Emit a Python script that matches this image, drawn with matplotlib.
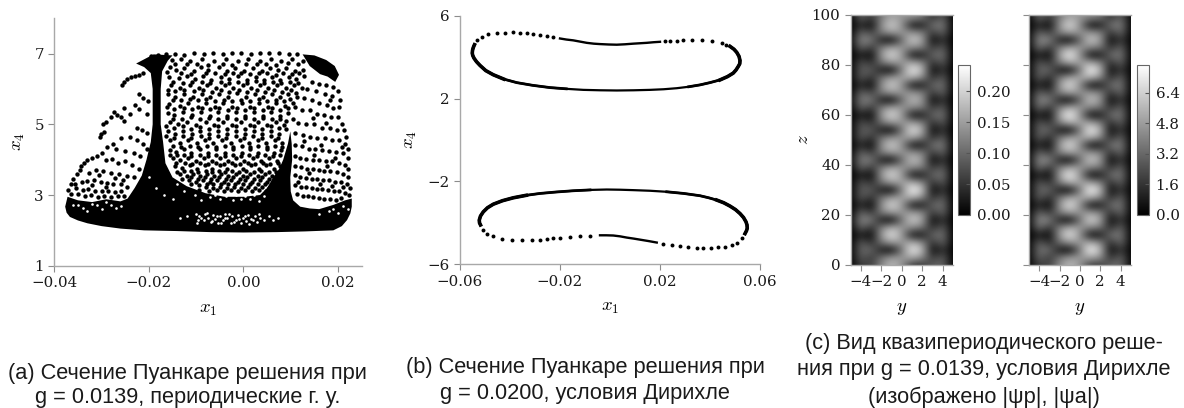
import matplotlib
matplotlib.use('Agg')
import matplotlib.pyplot as plt
import numpy as np

plt.rcParams['font.family'] = ['DejaVu Serif']
plt.rcParams['mathtext.fontset'] = 'cm'

W, H = 1184, 408

# --- panel (a): x1 in units of 1e-3, x4 as is
# outline of the part where the points merge into solid black
dense_a = [(-37.7, 2.67), (-37.4, 2.5), (-36.7, 2.38), (-35, 2.28), (-33, 2.2), (-30, 2.12), (-26, 2.05), (-21, 2.0), (-14, 1.98),
           (-7, 1.95), (0, 1.94), (7, 1.95), (13, 1.97), (19, 2.0), (20.8, 2.12), (21.9, 2.29), (22.6, 2.48), (22.9, 2.67), (22.9, 2.9),
           (21.5, 2.85), (19, 2.72), (16, 2.6), (14, 2.62), (12, 2.67), (10.5, 2.85), (10, 3.1), (9.9, 3.5), (10.3, 4.0), (10.2, 4.45),
           (9.9, 4.8), (9.4, 4.45), (8.4, 4.0), (7.6, 3.75), (6.3, 3.5), (5, 3.2), (3.5, 3.0), (0, 2.95), (-4, 2.95), (-8, 3.05), (-12, 3.25), (-15, 3.5),
           (-16.5, 3.9), (-17, 4.5), (-17.5, 5), (-17.5, 6), (-17.2, 6.5), (-16, 6.8), (-15, 6.95), (-19, 6.98), (-22.7, 6.72),
           (-21, 6.62), (-19.6, 6.45), (-19.2, 6), (-19.2, 5), (-19.6, 4.5), (-20.5, 4), (-21.5, 3.55), (-23, 3.2), (-24.5, 2.9),
           (-26, 2.82), (-29, 2.88), (-32, 2.8), (-35, 2.85), (-37.2, 2.95)]
top_right_a = [(12.5, 6.98), (15, 6.95), (17.5, 6.82), (19.3, 6.65), (20.2, 6.4), (19.4, 6.2), (17.8, 6.35), (16.2, 6.42), (14, 6.65)]

rim_a = [(-19.5, 6.92), (-18, 6.95), (-16.4, 6.98), (-14.4, 7.0), (-12.6, 6.97), (-10.5, 7.01), (-8.4, 7.0),
         (-6.4, 7.03), (-4.4, 6.99), (-2.5, 7.02), (-0.5, 7.03), (1.6, 7.0), (3.5, 7.01), (5.4, 7.03),
         (7.6, 7.02), (9.6, 6.99), (11.4, 6.98)]
left_wing_a = [(-25.6, 6.12), (-25.2, 6.2), (-24.6, 6.28), (-23.8, 6.33), (-23, 6.36), (-22.1, 6.4), (-21.2, 6.45),
               (-22, 5.85), (-21.2, 5.75), (-20.2, 5.65), (-23, 5.55), (-22, 5.42), (-20.4, 5.3), (-25.2, 5.45),
               (-24, 5.28), (-26, 5.2), (-25.2, 5.1), (-27.4, 5.35), (-26.8, 5.25), (-28, 5.2), (-29, 5.07),
               (-29.6, 5.0), (-30.2, 4.72), (-30.4, 4.65), (-29.4, 4.78), (-22.6, 4.9), (-21.5, 4.85), (-20.5, 4.75),
               (-24, 4.65), (-22.5, 4.55), (-21.2, 4.45), (-26, 4.6), (-27.5, 4.45), (-28.8, 4.35), (-27, 4.3),
               (-25, 4.25), (-23.2, 4.2), (-21.8, 4.1), (-20.5, 4.3), (-31, 4.1), (-30, 4.2), (-32, 4.05), (-33, 3.98),
               (-33.8, 3.9), (-34.3, 3.82), (-34.6, 3.72), (-29, 4.0), (-27.8, 4.02), (-26.6, 3.9), (-25, 3.95),
               (-23.5, 3.85), (-22, 3.75), (-31.2, 3.72), (-32.6, 3.62), (-29.6, 3.68), (-28, 3.62), (-26.3, 3.6),
               (-24.6, 3.55), (-23.2, 3.5), (-35.3, 3.6), (-36, 3.45), (-36.5, 3.3), (-34.2, 3.38), (-33, 3.4),
               (-31.5, 3.42), (-30.2, 3.38), (-28.8, 3.35), (-27.5, 3.32), (-26, 3.3), (-24.6, 3.24), (-37, 3.15),
               (-35.4, 3.2), (-34, 3.15), (-32.8, 3.18), (-31.4, 3.12), (-30, 3.1), (-28.6, 3.12), (-27.2, 3.08),
               (-25.8, 3.1), (-36.4, 3.02), (-35, 3.02), (-33.6, 2.98), (-32.2, 3.0), (-30.8, 2.95), (-29.4, 2.98), (-28, 2.94),
               (-26.6, 2.96), (-25.2, 2.98), (-35.6, 3.3), (-32.1, 3.28), (-29, 3.24), (-25.4, 3.42), (-30.6, 3.56), (-27.2, 3.48)]
center_a = [(-15.2, 6.82), (-13.3, 6.86), (-11.4, 6.78), (-8.8, 6.84), (-6.3, 6.8), (-3.6, 6.86), (-1.2, 6.8), (1, 6.84),
            (3.5, 6.78), (5.9, 6.85), (8, 6.8), (10.3, 6.84), (-15.6, 6.62), (-14.2, 6.55), (-12.5, 6.6), (-10.4, 6.5),
            (-9, 6.62), (-7.4, 6.55), (-5.2, 6.63), (-3.5, 6.5), (-1.7, 6.58), (0.2, 6.52), (2, 6.6), (4, 6.5), (5.6, 6.6),
            (7.2, 6.53), (9, 6.6), (10.8, 6.52), (12.5, 6.55), (-15.8, 6.35), (-13.7, 6.3), (-12, 6.38), (-10.2, 6.28),
            (-8.5, 6.36), (-6.8, 6.26), (-4.7, 6.35), (-3, 6.28), (-1.2, 6.36), (0.8, 6.26), (2.6, 6.34), (4.4, 6.26),
            (6.1, 6.34), (7.8, 6.26), (9.6, 6.34), (11.2, 6.28), (12.8, 6.36), (-15.4, 6.1), (-13.5, 6.02), (-11.4, 6.12),
            (-9.5, 6.02), (-7.8, 6.12), (-5.9, 6.04), (-4, 6.12), (-2.2, 6.02), (-0.2, 6.12), (1.6, 6.04), (3.5, 6.12),
            (5.2, 6.02), (7, 6.12), (8.9, 6.04), (10.6, 6.12), (12.3, 6.04), (-15.9, 5.85), (-14.4, 5.78), (-12.5, 5.86),
            (-10.6, 5.76), (-8.8, 5.86), (-7, 5.76), (-5.2, 5.86), (-3.2, 5.78), (-1.4, 5.88), (0.6, 5.78), (2.5, 5.86),
            (4.2, 5.76), (6, 5.86), (7.8, 5.76), (9.5, 5.86), (11.3, 5.78), (-15.7, 5.58), (-13.5, 5.52), (-11.7, 5.6),
            (-9.6, 5.5), (-7.9, 5.6), (-6, 5.5), (-4.3, 5.6), (-2.4, 5.5), (-0.4, 5.6), (1.4, 5.5), (3.3, 5.6), (5.1, 5.5),
            (6.9, 5.6), (8.7, 5.52), (10.4, 5.6), (-16, 5.32), (-14.6, 5.26), (-12.7, 5.34), (-10.9, 5.26), (-9, 5.35),
            (-7.1, 5.24), (-5.3, 5.34), (-3.4, 5.24), (-1.5, 5.34), (0.4, 5.24), (2.2, 5.34), (4.1, 5.24), (5.9, 5.34),
            (7.7, 5.24), (9.4, 5.32), (-15.6, 5.08), (-13.8, 5.0), (-11.9, 5.08), (-10, 4.98), (-8, 5.08), (-6.2, 4.98),
            (-4.4, 5.08), (-2.5, 4.98), (-0.6, 5.08), (1.3, 4.98), (3.1, 5.08), (5, 4.98), (6.8, 5.08), (8.5, 4.98),
            (-15.9, 4.82), (-14.4, 4.74), (-12.7, 4.82), (-10.8, 4.72), (-9.1, 4.82), (-7.2, 4.72), (-5.4, 4.82), (-3.5, 4.72),
            (-1.6, 4.82), (0.3, 4.72), (2.2, 4.82), (4, 4.72), (5.8, 4.82), (7.6, 4.74), (-15.5, 4.55), (-13.5, 4.48),
            (-11.8, 4.56), (-9.9, 4.46), (-8.1, 4.56), (-6.4, 4.46), (-4.5, 4.56), (-2.6, 4.46), (-0.7, 4.56), (1.1, 4.46),
            (3, 4.56), (4.8, 4.46), (6.6, 4.56), (8.2, 4.46), (-15.6, 4.28), (-14.2, 4.22), (-12.6, 4.3), (-11, 4.2),
            (-9.2, 4.3), (-7.6, 4.2), (-5.8, 4.3), (-4, 4.2), (-2.2, 4.3), (-0.4, 4.2), (1.4, 4.3), (3.1, 4.2), (4.9, 4.3),
            (6.5, 4.2), (8, 4.28), (-15, 4.05), (-13.4, 3.98), (-11.8, 4.05), (-10.1, 3.96), (-8.4, 4.05), (-6.7, 3.96),
            (-5, 4.05), (-3.3, 3.96), (-1.5, 4.05), (0.2, 3.96), (2, 4.05), (3.7, 3.96), (5.4, 4.05), (7, 3.96),
            (-14.5, 3.82), (-13, 3.76), (-11.4, 3.84), (-9.8, 3.74), (-8.2, 3.84), (-6.6, 3.74), (-5, 3.84), (-3.4, 3.74),
            (-1.8, 3.84), (-0.1, 3.74), (1.6, 3.84), (3.2, 3.74), (4.8, 3.84), (6.4, 3.74), (7.8, 3.82), (-13.4, 3.6),
            (-12, 3.55), (-10.6, 3.6), (-9.2, 3.54), (-7.7, 3.6), (-6.2, 3.54), (-4.7, 3.6), (-3.2, 3.54), (-1.6, 3.6),
            (-0.1, 3.54), (1.4, 3.6), (3, 3.54), (4.6, 3.6), (6.1, 3.54), (7.5, 3.58), (-11.5, 3.42), (-10, 3.36),
            (-8.6, 3.42), (-7.1, 3.36), (-5.6, 3.42), (-4.1, 3.36), (-2.6, 3.42), (-1.1, 3.36), (0.4, 3.42), (1.9, 3.36),
            (3.4, 3.42), (5, 3.36), (6.4, 3.42), (-8, 3.24), (-6.5, 3.2), (-5, 3.24), (-3.5, 3.2), (-2, 3.24), (-0.5, 3.2),
            (1, 3.24), (2.5, 3.2), (4, 3.24), (5.4, 3.2)]
center_more_a = [(-14.4, 6.7), (-11.9, 6.7), (-9.8, 6.72), (-7.6, 6.68), (-4.4, 6.72), (-2.4, 6.68), (0.6, 6.7), (2.8, 6.7), (4.8, 6.7), (6.8, 6.68),
                 (9.4, 6.74), (11.6, 6.7), (-16.1, 6.48), (-13.2, 6.44), (-11, 6.42), (-8, 6.44), (-6, 6.46), (-4, 6.42), (-2.3, 6.44),
                 (-0.5, 6.46), (1.3, 6.42), (3.2, 6.44), (5, 6.46), (6.8, 6.4), (8.4, 6.44), (10.2, 6.42), (11.8, 6.44), (-15, 6.2),
                 (-12.7, 6.18), (-10.9, 6.2), (-8.8, 6.2), (-7, 6.18), (-4.8, 6.2), (-3, 6.16), (-1.2, 6.2), (0.8, 6.16), (2.6, 6.22),
                 (4.4, 6.16), (6.2, 6.2), (8, 6.16), (9.8, 6.2), (11.6, 6.16), (-16, 5.98), (-14.4, 5.94), (-12.6, 5.96), (-10.5, 5.94),
                 (-8.6, 5.98), (-6.6, 5.92), (-4.8, 5.98), (-3, 5.92), (-1, 5.98), (0.8, 5.92), (2.8, 5.98), (4.6, 5.92), (6.4, 5.98),
                 (8.2, 5.92), (10, 5.98), (-15, 5.7), (-13.2, 5.68), (-11.4, 5.72), (-9.6, 5.68), (-8, 5.72), (-6, 5.66), (-4.2, 5.7),
                 (-2.4, 5.66), (-0.6, 5.7), (1.4, 5.66), (3.2, 5.72), (5, 5.66), (6.8, 5.7), (8.6, 5.66), (9.8, 5.72), (-16.2, 5.48),
                 (-14.6, 5.42), (-12.6, 5.46), (-10.8, 5.42), (-8.8, 5.46), (-7, 5.42), (-5.2, 5.46), (-3.2, 5.4), (-1.4, 5.46), (0.4, 5.4),
                 (2.2, 5.46), (4.2, 5.4), (6, 5.46), (7.8, 5.4), (9.4, 5.46), (-14.8, 5.16), (-13, 5.14), (-11, 5.2), (-9.2, 5.14),
                 (-7.2, 5.18), (-5.4, 5.14), (-3.4, 5.18), (-1.6, 5.14), (0.4, 5.18), (2.2, 5.14), (4.1, 5.18), (6, 5.14), (7.8, 5.16),
                 (9, 5.1), (-16.4, 4.95), (-14.6, 4.9), (-12.8, 4.94), (-11, 4.88), (-9.2, 4.92), (-7.2, 4.88), (-5.4, 4.94), (-3.4, 4.88),
                 (-1.6, 4.94), (0.4, 4.88), (2.2, 4.94), (4, 4.88), (5.8, 4.94), (7.6, 4.9), (9, 4.86), (-16.4, 4.66), (-14.6, 4.62),
                 (-12.8, 4.66), (-11, 4.6), (-9, 4.66), (-7.2, 4.6), (-5.4, 4.66), (-3.6, 4.6), (-1.6, 4.66), (0.2, 4.6), (2, 4.66),
                 (3.9, 4.6), (5.8, 4.66), (7.4, 4.6), (-14.9, 4.38), (-13.2, 4.36), (-11.4, 4.38), (-9.6, 4.36), (-7.7, 4.38), (-5.8, 4.36),
                 (-4, 4.38), (-2.2, 4.36), (-0.4, 4.38), (1.4, 4.36), (3.1, 4.38), (4.9, 4.36), (6.7, 4.38), (8.2, 4.36), (-15.6, 4.12),
                 (-14, 4.12), (-12.6, 4.14), (-11, 4.1), (-9.2, 4.14), (-7.6, 4.1), (-5.8, 4.14), (-4, 4.1), (-2.2, 4.14), (-0.6, 4.1),
                 (1.2, 4.14), (2.8, 4.1), (4.6, 4.14), (6.2, 4.1), (7.8, 4.14), (-14.2, 3.9), (-12.4, 3.9), (-10.9, 3.88), (-9.2, 3.9),
                 (-7.4, 3.88), (-5.8, 3.9), (-4.1, 3.88), (-2.4, 3.9), (-0.8, 3.88), (0.9, 3.9), (2.5, 3.88), (4.1, 3.9), (5.7, 3.88),
                 (7.2, 3.9), (-14, 3.66), (-12.6, 3.68), (-11.2, 3.68), (-9.7, 3.66), (-8, 3.68), (-6.6, 3.66), (-5.2, 3.68), (-3.8, 3.66),
                 (-2.4, 3.68), (-0.9, 3.66), (0.6, 3.68), (2.2, 3.66), (3.8, 3.68), (5.4, 3.66), (6.8, 3.66), (-13, 3.46), (-11, 3.5),
                 (-9.6, 3.46), (-8.2, 3.5), (-6.8, 3.46), (-5.2, 3.5), (-3.6, 3.46), (-2.2, 3.5), (-0.8, 3.46), (0.8, 3.5), (2.3, 3.46),
                 (3.9, 3.5), (5.5, 3.46), (7, 3.46), (-11, 3.3), (-9.4, 3.28), (-7.8, 3.32), (-6.4, 3.3), (-4.8, 3.32), (-3.2, 3.3),
                 (-1.8, 3.32), (-0.2, 3.3), (1.4, 3.32), (3, 3.3), (4.6, 3.32), (6, 3.28), (-9.4, 3.14), (-7.2, 3.12), (-5.7, 3.14),
                 (-4.2, 3.12), (-2.7, 3.14), (-1.2, 3.12), (0.3, 3.14), (1.8, 3.12), (3.2, 3.14), (4.7, 3.1)]
right_wing_a = [(12.6, 6.8), (14.5, 6.2), (16, 6.15), (17.5, 6.1), (19, 6.05), (13.5, 6.0), (15.3, 5.95), (17.2, 5.85), (18.8, 5.8),
                (20, 5.95), (20.4, 5.7), (20.2, 5.5), (11.2, 5.9), (12.8, 5.75), (14.5, 5.7), (16, 5.6), (17.7, 5.55), (19, 5.45),
                (11, 5.5), (12.3, 5.4), (14, 5.4), (15.6, 5.3), (17, 5.25), (18.6, 5.2), (20, 5.2), (20.8, 5.0), (21.2, 4.85),
                (10.4, 5.15), (11.5, 5.05), (13.3, 5.0), (15, 5.0), (16.6, 4.9), (18.2, 4.9), (19.8, 4.85), (21.6, 4.65),
                (10.8, 4.75), (12.5, 4.7), (14, 4.65), (15.6, 4.6), (17.2, 4.6), (18.8, 4.55), (20.3, 4.55), (21.4, 4.45),
                (22, 4.3), (11, 4.42), (12.4, 4.38), (13.8, 4.3), (15.2, 4.3), (16.6, 4.28), (18, 4.25), (19.5, 4.22), (21, 4.18),
                (22, 4.05), (10.8, 4.1), (12, 4.06), (13.3, 4.02), (14.6, 4.0), (16, 3.98), (17.4, 3.95), (18.8, 3.95), (20.2, 3.9),
                (21.4, 3.85), (22.2, 3.75), (11, 3.82), (12.2, 3.78), (13.4, 3.74), (14.6, 3.74), (15.9, 3.72), (17.1, 3.68),
                (18.4, 3.68), (19.7, 3.64), (21, 3.6), (22.2, 3.5), (10.8, 3.56), (12, 3.52), (13.2, 3.48), (14.4, 3.46),
                (15.6, 3.46), (16.9, 3.42), (18.1, 3.42), (19.3, 3.38), (20.6, 3.36), (21.8, 3.3), (22.6, 3.2), (11, 3.28),
                (12.1, 3.24), (13.2, 3.22), (14.4, 3.2), (15.5, 3.18), (16.7, 3.16), (17.9, 3.14), (19.1, 3.12), (20.3, 3.1),
                (21.5, 3.06), (11.4, 3.02), (12.5, 2.98), (13.6, 2.96), (14.8, 2.94), (16, 2.92), (17.1, 2.9), (18.3, 2.88),
                (19.5, 2.86), (20.6, 2.92), (22.4, 3.0), (21.1, 3.22), (11.6, 3.38), (16.2, 3.3), (18.8, 3.26), (13.8, 3.62),
                (17.7, 3.82), (19.4, 4.06), (15, 4.14), (12.9, 4.52), (16.4, 4.42), (20.8, 4.36), (17.4, 5.05), (14.8, 5.18), (18.4, 5.68)]
# white gaps inside the black part
specks_a = [(-10, 2.45), (-9.6, 2.3), (-9.3, 2.4), (-8.4, 2.28), (-8.1, 2.46), (-7.4, 2.36), (-6.9, 2.24), (-6.4, 2.44),
            (-6, 2.32), (-5.3, 2.2), (-5, 2.4), (-4.3, 2.28), (-3.8, 2.46), (-3.4, 2.34), (-2.7, 2.22), (-2.4, 2.42),
            (-1.6, 2.3), (-1.2, 2.44), (-0.5, 2.2), (-0.1, 2.36), (0.6, 2.26), (1, 2.44), (1.6, 2.32), (2.4, 2.42),
            (2.9, 2.24), (3.6, 2.36), (4.4, 2.3), (5.3, 2.4), (6.2, 2.3), (7.4, 2.36), (-12, 2.42), (-13.4, 2.35),
            (-7, 2.95), (-6, 3.0), (-5, 2.9), (-3.6, 2.98), (-2.3, 2.85), (-1.5, 3.0), (-0.6, 2.9), (0.4, 2.98),
            (1.3, 2.88), (2.2, 3.0), (3.2, 2.84), (4.4, 2.98), (-10.2, 3.0), (-12.6, 3.12), (-9, 2.85), (-14, 3.3),
            (-32, 2.75), (-30, 2.6), (-28, 2.72), (-35, 2.72), (-26, 2.7), (-33, 2.55), (19, 2.6), (21, 2.7), (16, 2.45),
            (-9.8, 2.2), (-8.9, 2.34), (-7.7, 2.5), (-6.6, 2.26), (-5.6, 2.42), (-4.7, 2.22), (-3.9, 2.34), (-3, 2.46),
            (-2, 2.24), (-0.9, 2.32), (0.3, 2.42), (1.2, 2.18), (2.1, 2.3), (3.2, 2.46), (-36, 2.72), (-34, 2.62), (-31, 2.72),
            (-29, 2.8), (-27, 2.62), (20, 2.5), (18, 2.55), (22, 2.6), (-20, 3.5), (-18.5, 3.2), (-16.8, 3.0), (-15, 2.9)]

# --- panel (b): closed loops, x1 in units of 1e-3
upper_thick_x = [-20, -17.5, -14.7, -12, -9.3, -6.5, -4, -0.5, 2.7, 6, 9.3, 12, 14.7, 17.5, 20]
upper_thick_y = [4.9, 4.85, 4.81, 4.75, 4.69, 4.65, 4.63, 4.61, 4.6, 4.62, 4.65, 4.67, 4.69, 4.72, 4.74]
upper_low_x = [48, 49.6, 50.7, 51.6, 52, 51.9, 51.3, 50.4, 49.3, 47, 44, 40, 36, 31.5, 26.7, 21.5, 16, 9.5, 2.7, -4, -10.7, -17.5, -24, -31,
               -37.3, -42.5, -46.7, -49.7, -52, -53.4, -54.4, -54.9, -55.1, -55, -54.8, -54.5, -54.2]
upper_low_y = [4.52, 4.38, 4.23, 4.04, 3.84, 3.68, 3.55, 3.38, 3.23, 3.06, 2.9, 2.77, 2.66, 2.57, 2.5, 2.45, 2.42, 2.4, 2.39, 2.4, 2.42, 2.47, 2.53, 2.64,
               2.77, 2.94, 3.15, 3.35, 3.6, 3.78, 3.95, 4.08, 4.19, 4.32, 4.42, 4.52, 4.6]
upper_dots_x = [-53.1, -51.3, -48.7, -45.3, -42, -38.9, -36, -33.3, -30.7, -28, -25.3, -22.7, 22, 24, 26.7, 29.3, 32.7, 36.7, 40.7, 44.7, 46.5]
upper_dots_y = [4.81, 4.95, 5.1, 5.16, 5.18, 5.19, 5.18, 5.16, 5.13, 5.08, 5.03, 4.98, 4.76, 4.77, 4.8, 4.82, 4.84, 4.84, 4.79, 4.69, 4.6]
lower_thick_x = [-4, -1.5, 1.3, 4, 6.7, 9.5, 12, 15.5, 18.7]
lower_thick_y = [-4.6, -4.6, -4.61, -4.65, -4.71, -4.76, -4.81, -4.88, -4.95]
lower_low_x = [54, 54.6, 54.9, 54.8, 54.4, 53.4, 52, 50.2, 48, 45.5, 42.7, 39.5, 36, 29.5, 22.7, 16, 9.3, 4, -1.3, -8, -14.7, -21.5, -28, -33.5,
               -38.7, -43, -46.7, -49, -50.7, -51.8, -52.3, -52.2, -51.8]
lower_low_y = [-4.52, -4.38, -4.26, -4.1, -3.95, -3.74, -3.55, -3.36, -3.19, -3.03, -2.9, -2.79, -2.69, -2.58, -2.5, -2.45, -2.42, -2.4, -2.39, -2.41, -2.45, -2.51, -2.58, -2.67,
               -2.79, -2.93, -3.1, -3.27, -3.47, -3.67, -3.87, -4.0, -4.1]
lower_dots_x = [-50.7, -49.1, -46.7, -43.3, -39.3, -35.3, -31.3, -28, -25.3, -22.7, -20, -16, -12, -8, 21.3, 24.7, 28, 31.3, 34.7, 37.3, 40.3, 43.3, 46, 48.7, 50.7, 52.7]
lower_dots_y = [-4.35, -4.52, -4.65, -4.77, -4.84, -4.85, -4.84, -4.81, -4.77, -4.74, -4.71, -4.68, -4.63, -4.61, -5.02, -5.08, -5.13, -5.18, -5.21, -5.21, -5.21, -5.18, -5.15, -5.05, -4.95, -4.71]

# --- panel (c): field values, rows z = 0, 3, ... 99, columns y = -5 ... 5
y_grid = [-5, -4, -3, -2, -1, 0, 1, 2, 3, 4, 5]
z_grid = list(range(0, 100, 3))
psi_p = [
    [.00, .06, .06, .13, .18, .14, .05, .05, .09, .10, .00],
    [.00, .09, .05, .11, .15, .14, .16, .13, .05, .09, .00],
    [.00, .10, .10, .02, .00, .11, .23, .18, .00, .05, .00],
    [.00, .09, .04, .11, .15, .14, .17, .13, .04, .10, .00],
    [.00, .03, .00, .15, .22, .15, .01, .02, .10, .11, .00],
    [.00, .10, .04, .12, .17, .14, .13, .11, .04, .09, .00],
    [.01, .13, .12, .02, .00, .11, .20, .16, .00, .05, .00],
    [.00, .10, .05, .12, .15, .14, .15, .13, .05, .10, .00],
    [.00, .04, .00, .14, .21, .15, .01, .02, .10, .11, .00],
    [.00, .09, .04, .11, .15, .15, .17, .13, .04, .09, .00],
    [.00, .09, .09, .02, .00, .12, .24, .19, .00, .05, .00],
    [.00, .08, .04, .11, .15, .15, .17, .13, .04, .09, .00],
    [.00, .03, .00, .15, .21, .15, .01, .02, .10, .11, .00],
    [.00, .10, .05, .12, .16, .14, .13, .12, .05, .09, .00],
    [.01, .12, .12, .02, .00, .10, .19, .15, .00, .05, .00],
    [.00, .10, .05, .12, .15, .14, .14, .12, .05, .10, .00],
    [.00, .04, .00, .14, .20, .14, .01, .02, .11, .12, .00],
    [.00, .09, .04, .11, .14, .14, .16, .12, .04, .09, .00],
    [.00, .09, .09, .02, .00, .11, .22, .17, .00, .05, .00],
    [.00, .08, .04, .11, .15, .14, .15, .12, .04, .09, .00],
    [.00, .03, .00, .15, .21, .15, .01, .02, .10, .11, .00],
    [.00, .10, .05, .12, .16, .14, .13, .12, .05, .09, .00],
    [.01, .12, .12, .02, .00, .10, .18, .15, .00, .05, .00],
    [.00, .10, .06, .12, .15, .14, .14, .12, .05, .10, .00],
    [.00, .04, .00, .14, .20, .14, .01, .02, .10, .11, .00],
    [.00, .09, .04, .11, .15, .15, .17, .13, .04, .09, .00],
    [.00, .09, .09, .02, .00, .12, .23, .18, .00, .05, .00],
    [.00, .08, .04, .11, .15, .14, .16, .13, .04, .09, .00],
    [.00, .03, .00, .15, .21, .15, .01, .02, .10, .11, .00],
    [.00, .10, .05, .12, .16, .14, .13, .12, .05, .09, .00],
    [.01, .13, .12, .02, .00, .10, .20, .16, .00, .05, .00],
    [.00, .10, .06, .12, .15, .14, .14, .12, .05, .10, .00],
    [.00, .04, .00, .14, .20, .14, .01, .02, .11, .12, .00],
    [.00, .10, .05, .12, .16, .14, .14, .12, .04, .09, .00],
]
psi_a = [
    [.0, 2.0, 2.0, 4.4, 5.8, 4.6, 1.8, 1.8, 3.2, 3.4, .0],
    [.0, 3.2, 1.6, 3.6, 4.8, 4.6, 5.0, 4.4, 1.4, 3.2, .0],
    [.0, 3.6, 3.4, .6, .0, 3.6, 7.8, 5.8, .0, 1.8, .0],
    [.0, 3.0, 1.2, 3.4, 4.6, 4.6, 5.4, 4.2, 1.2, 3.4, .0],
    [.0, .9, .0, 4.8, 7.2, 4.6, .2, .6, 3.6, 3.8, .0],
    [.0, 3.6, 1.4, 4.0, 5.4, 4.6, 4.0, 3.6, 1.2, 3.2, .0],
    [.1, 4.4, 4.0, .8, .0, 3.4, 6.8, 5.2, .0, 1.8, .0],
    [.0, 3.2, 1.6, 3.8, 5.0, 4.4, 4.8, 4.0, 1.4, 3.4, .0],
    [.0, 1.2, .0, 4.6, 7.2, 4.6, .2, .6, 3.4, 3.8, .0],
    [.0, 3.0, 1.2, 3.6, 5.2, 5.0, 5.4, 4.2, 1.2, 3.2, .0],
    [.0, 3.2, 3.2, .6, .0, 3.6, 7.8, 6.0, .0, 1.8, .0],
    [.0, 2.8, 1.4, 3.8, 5.6, 5.0, 5.0, 4.0, 1.2, 3.2, .0],
    [.0, 1.0, .0, 5.0, 7.6, 4.6, .2, .6, 3.4, 3.8, .0],
    [.0, 3.6, 1.6, 3.8, 5.2, 4.6, 4.0, 3.6, 1.4, 3.2, .0],
    [.1, 4.4, 4.2, .8, .0, 3.2, 6.4, 5.0, .0, 1.8, .0],
    [.0, 3.2, 1.6, 4.0, 5.2, 4.4, 4.6, 4.0, 1.4, 3.4, .0],
    [.0, 1.2, .0, 4.8, 7.0, 4.4, .2, .6, 3.6, 4.0, .0],
    [.0, 3.0, 1.2, 3.6, 5.0, 4.8, 5.6, 4.2, 1.2, 3.2, .0],
    [.0, 3.2, 3.2, .6, .0, 3.6, 7.6, 5.6, .0, 1.8, .0],
    [.0, 2.8, 1.4, 4.0, 5.6, 5.0, 5.0, 3.8, 1.2, 3.2, .0],
    [.0, 1.0, .0, 5.2, 7.8, 4.6, .2, .6, 3.4, 3.8, .0],
    [.0, 3.4, 1.6, 3.8, 5.4, 4.6, 4.0, 3.6, 1.4, 3.2, .0],
    [.1, 4.2, 4.0, .8, .0, 3.0, 6.2, 4.8, .0, 1.8, .0],
    [.0, 3.2, 1.8, 4.0, 5.2, 4.4, 4.6, 4.0, 1.4, 3.4, .0],
    [.0, 1.2, .0, 4.8, 7.0, 4.4, .2, .6, 3.4, 3.8, .0],
    [.0, 3.0, 1.2, 3.6, 5.2, 5.0, 5.6, 4.2, 1.2, 3.2, .0],
    [.0, 3.2, 3.2, .6, .0, 3.6, 7.8, 5.8, .0, 1.8, .0],
    [.0, 2.8, 1.4, 3.8, 5.4, 4.8, 5.2, 4.0, 1.2, 3.2, .0],
    [.0, 1.0, .0, 5.0, 7.6, 4.6, .2, .6, 3.4, 3.8, .0],
    [.0, 3.6, 1.6, 3.8, 5.2, 4.6, 4.0, 3.6, 1.4, 3.2, .0],
    [.1, 4.4, 4.2, .8, .0, 3.0, 6.4, 5.0, .0, 1.8, .0],
    [.0, 3.2, 1.8, 4.0, 5.0, 4.4, 4.6, 4.0, 1.4, 3.4, .0],
    [.0, 1.2, .0, 4.6, 7.0, 4.4, .2, .6, 3.6, 4.0, .0],
    [.0, 3.4, 1.6, 3.8, 5.2, 4.6, 4.2, 3.8, 1.4, 3.2, .0],
]

GREY = '#a8a8a8'
TICK = '#8c8c8c'
TXT = '#1a1a1a'


def px_axes(fig, left, top, right, bottom):
    return fig.add_axes([left / W, 1 - bottom / H, (right - left) / W, (bottom - top) / H])


def lab(fmt, v):
    return (fmt % v).replace('-', '\u2212')


def style_ax(ax, xt, yt, xfmt, yfmt):
    ax.set_xticks(xt)
    ax.set_yticks(yt)
    ax.set_xticklabels([lab(xfmt, v) for v in xt])
    ax.set_yticklabels([lab(yfmt, v) for v in yt])
    ax.tick_params(length=4.5, width=0.8, color=TICK, labelcolor=TXT, labelsize=10.8, pad=3)
    for s in ax.spines.values():
        s.set_color(GREY)
        s.set_linewidth(1.0)


fig = plt.figure(figsize=(W / 100, H / 100), dpi=100)

# (a)
ax = px_axes(fig, 54.3, 18.3, 361.7, 265.7)
for poly in (dense_a, top_right_a):
    p = np.array(poly)
    ax.fill(p[:, 0] / 1000, p[:, 1], color='black', lw=0)
for pts in (rim_a, left_wing_a, center_a, center_more_a, right_wing_a):
    p = np.array(pts)
    ax.scatter(p[:, 0] / 1000, p[:, 1], s=10, c='black', lw=0)
p = np.array(specks_a)
ax.scatter(p[:, 0] / 1000, p[:, 1], s=3.5, c='white', lw=0)
ax.set_xlim(-0.04, 0.025)
ax.set_ylim(1, 8)
style_ax(ax, [-0.04, -0.02, 0.0, 0.02], [1, 3, 5, 7], '%.2f', '%d')
ax.spines['top'].set_visible(False)
ax.spines['right'].set_visible(False)
ax.set_xlabel('$x_1$', fontsize=13.5, labelpad=7)
ax.set_ylabel('$x_4$', fontsize=13.5, labelpad=5)

# (b)
ax = px_axes(fig, 460, 15.7, 760, 264.3)
ax.plot(np.array(upper_thick_x) / 1000, upper_thick_y, color='black', lw=1.7)
ax.plot(np.array(lower_thick_x) / 1000, lower_thick_y, color='black', lw=1.7)
ax.plot(np.array(upper_low_x) / 1000, upper_low_y, color='black', lw=1.6)
ax.plot(np.array(lower_low_x) / 1000, lower_low_y, color='black', lw=1.6)
# the ends of the loops are packed tighter, so they read thicker
ax.plot(np.array(upper_low_x[:14]) / 1000, upper_low_y[:14], color='black', lw=2.0)
ax.plot(np.array(upper_low_x[-16:]) / 1000, upper_low_y[-16:], color='black', lw=2.0)
ax.plot(np.array(lower_low_x[:15]) / 1000, lower_low_y[:15], color='black', lw=2.0)
ax.plot(np.array(lower_low_x[-14:]) / 1000, lower_low_y[-14:], color='black', lw=2.0)
ax.plot(np.array(upper_low_x[:11]) / 1000, upper_low_y[:11], color='black', lw=2.6)
ax.plot(np.array(upper_low_x[-12:]) / 1000, upper_low_y[-12:], color='black', lw=2.6)
ax.plot(np.array(lower_low_x[:11]) / 1000, lower_low_y[:11], color='black', lw=2.6)
ax.plot(np.array(lower_low_x[-10:]) / 1000, lower_low_y[-10:], color='black', lw=2.6)
ax.scatter(np.array(upper_dots_x) / 1000, upper_dots_y, s=8, c='black', lw=0)
ax.scatter(np.array(lower_dots_x) / 1000, lower_dots_y, s=8, c='black', lw=0)
ax.set_xlim(-0.06, 0.06)
ax.set_ylim(-6, 6)
style_ax(ax, [-0.06, -0.02, 0.02, 0.06], [-6, -2, 2, 6], '%.2f', '%d')
ax.spines['top'].set_visible(False)
ax.spines['right'].set_visible(False)
ax.set_xlabel('$x_1$', fontsize=13.5, labelpad=7)
ax.set_ylabel('$x_4$', fontsize=13.5, labelpad=6)

# (c)
panels = [(psi_p, 850.7, 952.7, 958.3, 970.3, 0.242, [0, 0.05, 0.10, 0.15, 0.20], '%.2f'),
          (psi_a, 1029, 1130.7, 1136.7, 1148.7, 7.85, [0, 1.6, 3.2, 4.8, 6.4], '%.1f')]
for i, (vals, l, r, cl, cr, vmax, cticks, cfmt) in enumerate(panels):
    ax = px_axes(fig, l, 15, r, 265)
    im = ax.imshow(vals, cmap='gray', origin='lower', aspect='auto', interpolation='bicubic',
                   vmin=0, vmax=vmax, extent=[y_grid[0] - 0.5, y_grid[-1] + 0.5, z_grid[0] - 1.5, z_grid[-1] + 1.5])
    ax.set_xlim(-5, 5)
    ax.set_ylim(0, 100)
    style_ax(ax, [-4, -2, 0, 2, 4], [0, 20, 40, 60, 80, 100], '%d', '%d')
    ax.spines['right'].set_visible(False)
    ax.set_xlabel('$y$', fontsize=13.5, labelpad=7)
    if i == 0:
        ax.set_ylabel('$z$', fontsize=13.5, labelpad=0)
    else:
        ax.set_yticklabels([])
    cax = px_axes(fig, cl, 65, cr, 215)
    cb = fig.colorbar(im, cax=cax, ticks=cticks)
    cb.ax.set_yticklabels([cfmt % v for v in cticks])
    cb.ax.tick_params(length=3, width=0.8, color='#555555', direction='in', labelsize=10.8, labelcolor=TXT, pad=5)
    cb.outline.set_edgecolor('#666666')
    cb.outline.set_linewidth(0.8)

# captions
caps = [(187, 373, '(a) Сечение Пуанкаре решения при'), (188, 397, 'g = 0.0139, периодические г. у.'),
        (585, 368, '(b) Сечение Пуанкаре решения при'), (585, 393, 'g = 0.0200, условия Дирихле'),
        (984, 343, '(с) Вид квазипериодического реше-'), (984, 369, 'ния при g = 0.0139, условия Дирихле'),
        (984, 397, '(изображено |ψp|, |ψa|)')]
for cx, cy, s in caps:
    fig.text(cx / W, 1 - cy / H, s, ha='center', va='center', family='Liberation Sans', fontsize=15.7, color=TXT)

fig.savefig('out.png', dpi=100)
